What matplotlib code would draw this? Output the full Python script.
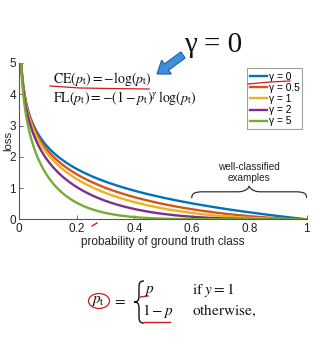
import numpy as np
import matplotlib
matplotlib.use("Agg")
import matplotlib.pyplot as plt
from matplotlib.path import Path
from matplotlib.patches import PathPatch, FancyArrow, Ellipse

# ---- data ----
gammas = [0, 0.5, 1, 2, 5]
legend_labels = ["γ = 0", "γ = 0.5", "γ = 1", "γ = 2", "γ = 5"]
colors = ["#0072BD", "#D95319", "#EDB120", "#7E2F8E", "#77AC30"]
p_t = np.linspace(0.001, 1.0, 1000)
xticks = [0, 0.2, 0.4, 0.6, 0.8, 1]
xticklabels = ["0", "0.2", "0.4", "0.6", "0.8", "1"]
yticks = [0, 1, 2, 3, 4, 5]

plt.rcParams["mathtext.fontset"] = "stix"
sans = "Liberation Sans"
serif = "Liberation Serif"

fig = plt.figure(figsize=(3.32, 3.42), dpi=100)
W, H = 332, 342


def px(x, y):
    return (x / W, 1 - y / H)


ax = fig.add_axes([19.3 / W, 1 - 219.3 / H, 287.4 / W, 156.3 / H])

for g, lab, c in zip(gammas, legend_labels, colors):
    loss = -((1 - p_t) ** g) * np.log(p_t)
    ax.plot(p_t, loss, color=c, lw=1.7, label=lab)

ax.set_xlim(0, 1)
ax.set_ylim(0, 5)
ax.set_xticks(xticks)
ax.set_xticklabels(xticklabels)
ax.set_yticks(yticks)
for s in ["top", "right"]:
    ax.spines[s].set_visible(False)
for s in ["left", "bottom"]:
    ax.spines[s].set_color("#555555")
    ax.spines[s].set_linewidth(0.8)
ax.tick_params(direction="in", length=3, width=0.6, colors="#555555",
               labelcolor="#222222", labelsize=8.5, pad=2.5)
for t in ax.get_xticklabels() + ax.get_yticklabels():
    t.set_family(sans)
ax.set_xlabel("probability of ground truth class", fontsize=8.5,
              family=sans, color="#222222", labelpad=1)
ax.set_ylabel("loss", fontsize=8.2, family=sans, color="#222222")
ax.yaxis.set_label_coords(-6.5 / 287.4, 0.5)

leg = ax.legend(loc="upper right", bbox_to_anchor=(0.985, 0.965),
                fontsize=7.3, frameon=True, fancybox=False, handlelength=1.7,
                handletextpad=0.15, labelspacing=0.12, borderpad=0.3,
                borderaxespad=0)
leg.get_frame().set_edgecolor("#888888")
leg.get_frame().set_linewidth(0.8)
for t in leg.get_texts():
    t.set_family(sans)

# brace over well-classified examples
y0, ym, yt = 0.68, 0.88, 1.07
xl, xr, xm = 0.6, 1.0, 0.8
verts = [
    (xl, y0), (xl, ym - 0.05), (xl + 0.01, ym), (xl + 0.04, ym),
    (xm - 0.04, ym), (xm - 0.01, ym), (xm, yt - 0.05), (xm, yt),
]
codes = [Path.MOVETO, Path.CURVE4, Path.CURVE4, Path.CURVE4,
         Path.LINETO, Path.CURVE4, Path.CURVE4, Path.CURVE4]
ax.add_patch(PathPatch(Path(verts, codes), fill=False, lw=0.9, color="#333333"))
verts2 = [(2 * xm - x, y) for x, y in verts]
ax.add_patch(PathPatch(Path(verts2, codes), fill=False, lw=0.9, color="#333333"))
ax.text(0.8, 1.5, "well-classified\nexamples", ha="center", va="center",
        fontsize=7.2, family=sans, color="#222222", linespacing=1.05)

# formulas in the plot
fig.text(*px(53, 79), r"$\mathrm{CE}(p_{\mathrm{t}}) = -\log(p_{\mathrm{t}})$",
         fontsize=10, ha="left", va="center", color="#111111")
fig.text(*px(53, 98),
         r"$\mathrm{FL}(p_{\mathrm{t}}) = -(1-p_{\mathrm{t}})^{\gamma}\,\log(p_{\mathrm{t}})$",
         fontsize=10, ha="left", va="center", color="#111111")
fig.text(*px(213, 45), "γ = 0", fontsize=21, family=serif,
         ha="center", va="center", color="#111111")

# red hand annotations
red = "#c81e1e"
fig.add_artist(plt.Line2D([50 / W, 80 / W, 110 / W, 149 / W],
                          [1 - 86 / H, 1 - 88 / H, 1 - 88.5 / H, 1 - 89 / H],
                          color=red, lw=0.9))
fig.add_artist(plt.Line2D([248 / W, 270 / W, 290 / W],
                          [1 - 84 / H, 1 - 82 / H, 1 - 81 / H],
                          color=red, lw=0.9))
fig.add_artist(plt.Line2D([92 / W, 97 / W], [1 - 226 / H, 1 - 223 / H],
                          color=red, lw=1.0))

# blue arrow
fig.add_artist(FancyArrow(183 / W, 1 - 55 / H, -26 / W, -19 / H,
                          width=0.022, head_width=0.05, head_length=0.035,
                          length_includes_head=True, transform=fig.transFigure,
                          facecolor="#3d8fdc", edgecolor="#1d5fa8", lw=0.8))

# bottom definition of p_t
fig.text(*px(98, 301), r"$p_{\mathrm{t}}$", fontsize=11,
         ha="center", va="center", color="#111111")
fig.text(*px(119, 300), r"$=$", fontsize=11,
         ha="center", va="center", color="#111111")
# curly brace drawn as path
bx, btop, bbot, bmid = 141, 281, 323, 302
bverts = [px(bx + 3, btop), px(bx - 2, btop), px(bx - 2, btop + 3), px(bx - 2, btop + 8),
          px(bx - 2, bmid - 6),
          px(bx - 2, bmid - 1), px(bx - 4, bmid), px(bx - 7, bmid),
          px(bx - 4, bmid), px(bx - 2, bmid + 1), px(bx - 2, bmid + 6),
          px(bx - 2, bbot - 8),
          px(bx - 2, bbot - 3), px(bx - 2, bbot), px(bx + 3, bbot)]
bcodes = [Path.MOVETO, Path.CURVE4, Path.CURVE4, Path.CURVE4,
          Path.LINETO,
          Path.CURVE4, Path.CURVE4, Path.CURVE4,
          Path.CURVE4, Path.CURVE4, Path.CURVE4,
          Path.LINETO,
          Path.CURVE4, Path.CURVE4, Path.CURVE4]
fig.add_artist(PathPatch(Path(bverts, bcodes), fill=False, lw=1.0,
                         edgecolor="#111111", transform=fig.transFigure))
fig.text(*px(144, 290), r"$p$", fontsize=11, ha="left", va="center",
         color="#111111")
fig.text(*px(142, 311), r"$1-p$", fontsize=11, ha="left", va="center",
         color="#111111")
fig.text(*px(192, 290), r"$\mathrm{if}\ y = 1$", fontsize=11,
         ha="left", va="center", color="#111111")
fig.text(*px(192, 311), r"$\mathrm{otherwise,}$", fontsize=11,
         ha="left", va="center", color="#111111")
fig.add_artist(Ellipse(px(99, 301), 21 / W, 15 / H,
                       transform=fig.transFigure, fill=False,
                       edgecolor=red, lw=0.9))
fig.add_artist(plt.Line2D([144 / W, 170 / W], [1 - 322 / H, 1 - 322 / H],
                          color=red, lw=1.0))
fig.add_artist(plt.Line2D([140 / W, 148 / W], [1 - 297 / H, 1 - 296 / H],
                          color=red, lw=1.0))

fig.savefig("out.png", dpi=100)
